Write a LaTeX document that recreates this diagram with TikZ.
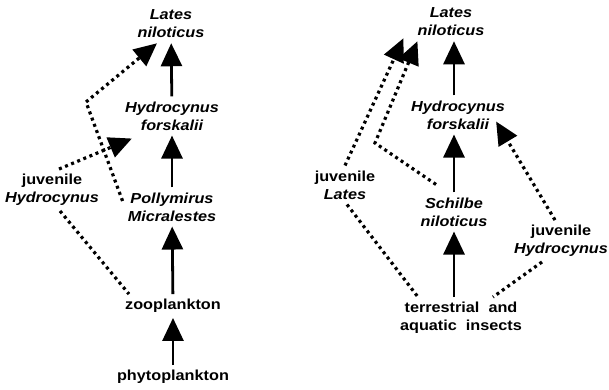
\documentclass[tikz,border=0pt]{standalone}
\usepackage{fontspec}
\setmainfont{Liberation Sans}[FakeStretch=1.12]
\usetikzlibrary{arrows.meta}
\newcommand{\labfont}{\fontsize{14.5}{18}\selectfont\bfseries}
\tikzset{
  lab/.style={font=\labfont, align=center, inner sep=5pt},
  sp/.style={lab, font=\labfont\itshape},
  feed/.style={line width=2.8pt, -{Triangle[length=23pt,width=21pt]}},
  dotline/.style={line width=3.2pt, dash pattern=on 3pt off 3.6pt},
  dotfeed/.style={dotline, -{Triangle[length=23pt,width=21pt]}},
}

\begin{document}
\begin{tikzpicture}[x=1pt,y=-1pt]
\useasboundingbox (0,0) rectangle (609,389);

% left web
\node[sp]  (latL) at (171,24)  {Lates\\niloticus};
\node[sp]  (hydL) at (172,116) {Hydrocynus\\forskalii};
\node[sp]  (pol)  at (172,207) {Pollymirus\\Micralestes};
\node[lab] (zoo)  at (173,306) {zooplankton};
\node[lab] (phy)  at (173,377) {phytoplankton};
\node[lab] (juvHL) at (52,190) {juvenile\\\itshape Hydrocynus};
\coordinate (cL) at (86,102);

\draw[feed] (phy) -- (zoo);
\draw[feed] (zoo) -- (pol);
\draw[feed] (pol) -- (hydL);
\draw[feed] (hydL) -- (latL);
\draw[dotfeed] ([xshift=7pt]juvHL.north) -- ([xshift=12pt,yshift=-3pt]hydL.south west);
\draw[dotline] ([xshift=8pt]juvHL.south) -- ([xshift=9pt]zoo.north west);
\draw[dotfeed] ([yshift=6pt]pol.west) -- (cL) -- ([xshift=-14pt]latL.south);

% right web
\node[sp]  (latR) at (451,22)  {Lates\\niloticus};
\node[sp]  (hydR) at (458,115) {Hydrocynus\\forskalii};
\node[sp]  (sch)  at (454,212) {Schilbe\\niloticus};
\node[lab] (ins)  at (461,318) {terrestrial\ \ and\\aquatic\ \ insects};
\node[lab] (juvL) at (345,185) {juvenile\\\itshape Lates};
\node[lab] (juvHR) at (561,241) {juvenile\\\itshape Hydrocynus};
\coordinate (cR) at (375,143);

\draw[feed] (ins.north -| sch.center) -- (sch.south);
\draw[feed] (sch.north) -- (hydR.south -| sch.center);
\draw[feed] (hydR.north -| sch.center) -- (latR.south -| sch.center);
\draw[dotfeed] (juvL.north) -- ([xshift=-9pt,yshift=3pt]latR.south west);
\draw[dotline] ([xshift=2pt]juvL.south) -- ([xshift=-43pt]ins.north);
\draw[dotfeed] ([xshift=-18pt,yshift=8pt]sch.north) -- (cR) -- ([xshift=5pt]latR.south west);
\draw[dotfeed] ([xshift=-6pt]juvHR.north) -- ([xshift=-14pt,yshift=13pt]hydR.south east);
\draw[dotline] ([xshift=-19pt]juvHR.south) -- ([xshift=32pt]ins.north);
\end{tikzpicture}
\end{document}
